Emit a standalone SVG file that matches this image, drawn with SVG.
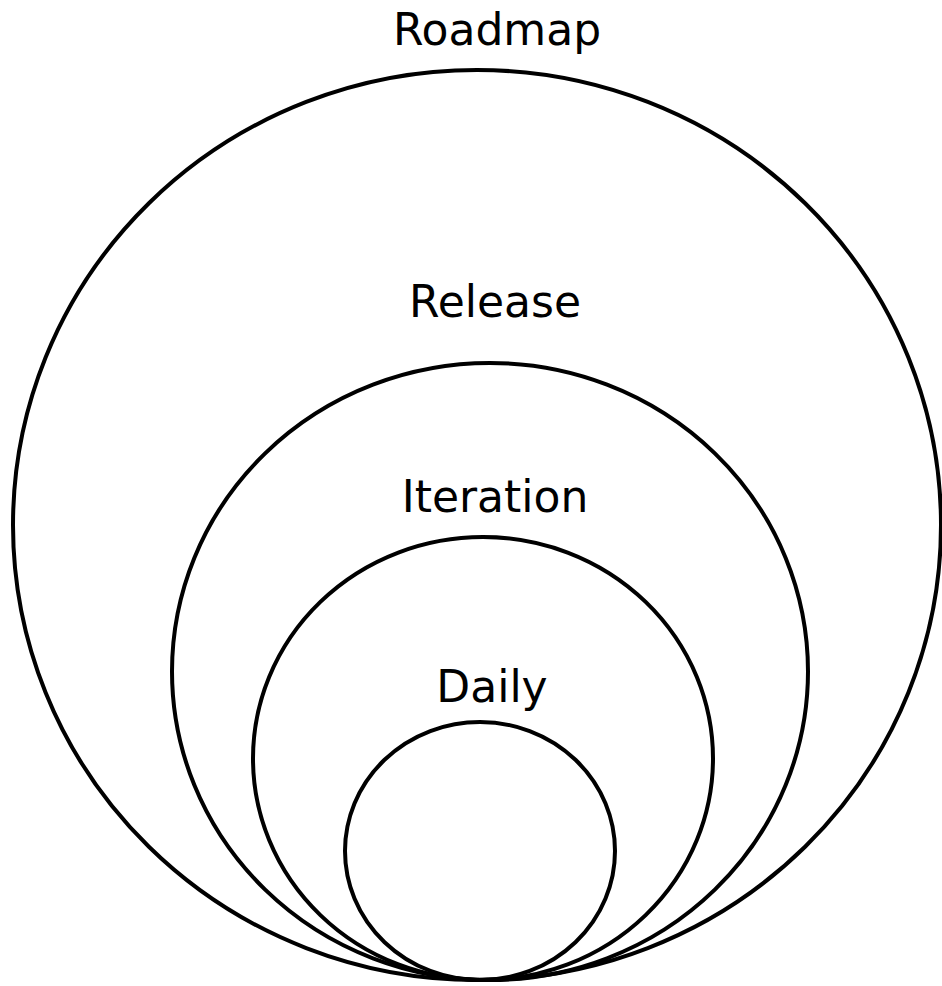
<svg xmlns="http://www.w3.org/2000/svg" width="942" height="986" viewBox="0 0 942 986">
<style>
.ring{fill:none;stroke:#000;stroke-width:4}
.lbl{font-family:"DejaVu Sans",sans-serif;font-size:44px;fill:#000;text-anchor:middle}
</style>
<rect width="942" height="986" fill="#fff"/>
<g id="roadmap"><ellipse class="ring" cx="477" cy="525" rx="464" ry="455"/><text class="lbl" x="497" y="45">Roadmap</text></g>
<g id="release"><ellipse class="ring" cx="490" cy="671.5" rx="318" ry="308.5"/><text class="lbl" x="495" y="317">Release</text></g>
<g id="iteration"><ellipse class="ring" cx="483" cy="758.5" rx="230" ry="221.5"/><text class="lbl" x="495" y="512">Iteration</text></g>
<g id="daily"><ellipse class="ring" cx="480" cy="851" rx="135" ry="129"/><text class="lbl" x="492" y="702">Daily</text></g>
<g id="connectors"/>
</svg>
